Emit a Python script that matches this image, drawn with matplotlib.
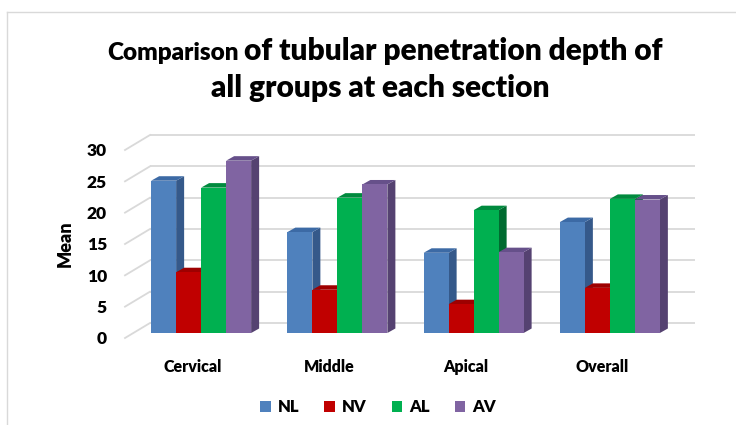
import matplotlib.pyplot as plt
from matplotlib.patches import Polygon, Patch
from matplotlib.lines import Line2D

plt.rcParams['font.family'] = ['Lato', 'DejaVu Sans']

sections = ["Cervical", "Middle", "Apical", "Overall"]
groups = ["NL", "NV", "AL", "AV"]
nl = [24.3, 16.1, 12.8, 17.7]
nv = [9.7, 6.9, 4.6, 7.2]
al = [23.2, 21.6, 19.6, 21.4]
av = [27.5, 23.7, 12.9, 21.3]
yticks = [0, 5, 10, 15, 20, 25, 30]

front_cols = ["#4f81bd", "#c00000", "#00b050", "#8064a2"]
top_cols = ["#3c6aa5", "#9e0000", "#008a3e", "#66508a"]
side_cols = ["#35598a", "#7a0000", "#006b30", "#554271"]

W, H = 736, 425
fig = plt.figure(figsize=(W / 100, H / 100), dpi=100)
wt = 'heavy'

# front plane of the plot area, in pixels
left, right, y0, y30 = 125, 670, 338, 150
ax = fig.add_axes([left / W, (H - y0) / H, (right - left) / W, (y0 - y30) / H])
ax.set_xlim(-0.5, 3.5)
ax.set_ylim(0, 30)
for s in ax.spines.values():
    s.set_visible(False)
ax.patch.set_alpha(0)

sx = (right - left) / 4.0
sy = (y0 - y30) / 30.0

# back wall offset, bar position and bar depth (pixels -> data)
wdx, wdy = 25 / sx, 15 / sy
bdx, bdy = 8 / sx, 5 / sy
ddx, ddy = 8 / sx, 4.5 / sy
w = 25 / sx

grid_col = "#d9d9d9"
for v in yticks:
    ax.plot([-0.5 + wdx, 3.5 + wdx], [v + wdy, v + wdy], color=grid_col, lw=1.3,
            zorder=0, clip_on=False, solid_capstyle='butt')
    ax.plot([-0.5, -0.5 + wdx], [v, v + wdy], color=grid_col, lw=1.3,
            zorder=0, clip_on=False)

series = [nl, nv, al, av]
z = 2
for i in range(len(sections)):
    for j, vals in enumerate(series):
        h = vals[i]
        x0 = i - 2 * w + j * w + bdx
        x1 = x0 + w
        b = bdy
        t = bdy + h
        front = Polygon([(x0, b), (x1, b), (x1, t), (x0, t)], closed=True,
                        facecolor=front_cols[j], edgecolor='none', zorder=z)
        top = Polygon([(x0, t), (x1, t), (x1 + ddx, t + ddy), (x0 + ddx, t + ddy)],
                      closed=True, facecolor=top_cols[j], edgecolor='none', zorder=z)
        side = Polygon([(x1, b), (x1 + ddx, b + ddy), (x1 + ddx, t + ddy), (x1, t)],
                       closed=True, facecolor=side_cols[j], edgecolor='none', zorder=z)
        for p in (side, top, front):
            p.set_clip_on(False)
            ax.add_patch(p)
        z += 1

ax.set_yticks(yticks)
ax.set_yticklabels([str(v) for v in yticks], fontsize=12.5, fontweight=wt)
ax.set_xticks(range(len(sections)))
ax.set_xticklabels(sections, fontsize=11.5, fontweight=wt)
ax.tick_params(axis='both', length=0)
ax.tick_params(axis='y', pad=13)
ax.tick_params(axis='x', pad=15)
ax.set_ylabel("Mean", fontsize=13, fontweight=wt, labelpad=9)

# title
fig.text(239 / W, (H - 60) / H, "Comparison", ha='right', va='baseline',
         fontsize=17.5, fontweight=wt)
fig.text(244 / W, (H - 60) / H, "of tubular penetration depth of", ha='left',
         va='baseline', fontsize=21.5, fontweight=wt)
fig.text(380 / W, (H - 97) / H, "all groups at each section", ha='center',
         va='baseline', fontsize=21.5, fontweight=wt)

handles = [Patch(facecolor=c, edgecolor='none') for c in front_cols]
fig.legend(handles, groups, loc='center', bbox_to_anchor=(378 / W, (H - 407) / H),
           ncol=4, frameon=False, handlelength=0.65, handleheight=0.65,
           handletextpad=0.4, columnspacing=1.5,
           prop={'weight': wt, 'size': 12})

# chart border
fig.add_artist(Line2D([7 / W, 1], [(H - 12) / H, (H - 12) / H], color=grid_col, lw=1))
fig.add_artist(Line2D([7 / W, 7 / W], [(H - 12) / H, 0], color=grid_col, lw=1))

fig.savefig("out.png", dpi=100)
